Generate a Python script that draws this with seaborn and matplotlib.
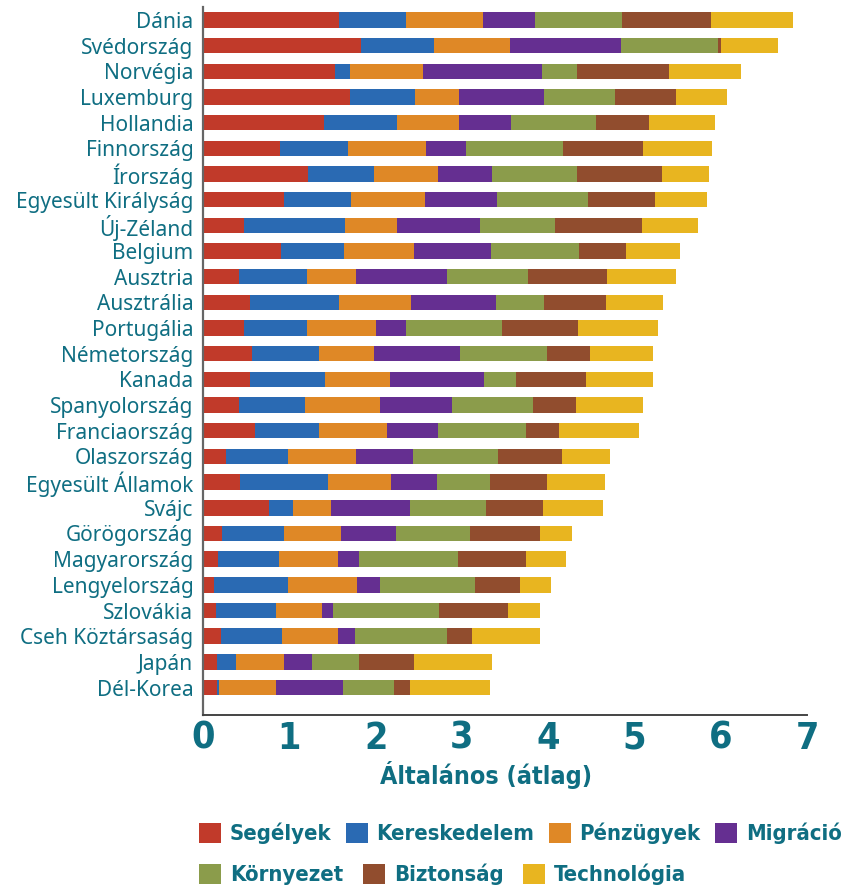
import pandas as pd
import seaborn as sns
import matplotlib.pyplot as plt
from matplotlib import font_manager
from matplotlib.font_manager import FontProperties
from matplotlib.textpath import TextToPath
from matplotlib.patches import Patch

countries = ['Dánia', 'Svédország', 'Norvégia', 'Luxemburg', 'Hollandia', 'Finnország',
             'Írország', 'Egyesült Királyság', 'Új-Zéland', 'Belgium', 'Ausztria',
             'Ausztrália', 'Portugália', 'Németország', 'Kanada', 'Spanyolország',
             'Franciaország', 'Olaszország', 'Egyesült Államok', 'Svájc', 'Görögország',
             'Magyarország', 'Lengyelország', 'Szlovákia', 'Cseh Köztársaság', 'Japán',
             'Dél-Korea']

segelyek = [1.58, 1.83, 1.53, 1.70, 1.40, 0.89, 1.22, 0.94, 0.48, 0.90, 0.42, 0.55, 0.48, 0.57,
            0.54, 0.42, 0.60, 0.27, 0.43, 0.77, 0.22, 0.17, 0.13, 0.15, 0.21, 0.16, 0.16]
kereskedelem = [0.77, 0.85, 0.17, 0.76, 0.85, 0.79, 0.76, 0.78, 1.17, 0.73, 0.78, 1.03, 0.73, 0.78,
                0.87, 0.76, 0.74, 0.72, 1.02, 0.27, 0.72, 0.71, 0.86, 0.70, 0.70, 0.22, 0.02]
penzugyek = [0.89, 0.88, 0.85, 0.51, 0.72, 0.91, 0.74, 0.85, 0.60, 0.81, 0.57, 0.83, 0.80, 0.63,
             0.76, 0.87, 0.79, 0.78, 0.73, 0.44, 0.66, 0.69, 0.80, 0.53, 0.66, 0.56, 0.67]
migracio = [0.61, 1.28, 1.38, 0.98, 0.60, 0.46, 0.63, 0.84, 0.96, 0.90, 1.06, 0.99, 0.34, 1.00,
            1.09, 0.83, 0.59, 0.66, 0.53, 0.92, 0.64, 0.24, 0.26, 0.13, 0.19, 0.32, 0.77]
kornyezet = [1.01, 1.13, 0.41, 0.82, 0.99, 1.12, 0.98, 1.05, 0.87, 1.02, 0.94, 0.55, 1.11, 1.01,
             0.37, 0.95, 1.02, 0.99, 0.62, 0.88, 0.85, 1.15, 1.10, 1.22, 1.07, 0.55, 0.59]
biztonsag = [1.03, 0.03, 1.06, 0.71, 0.61, 0.93, 0.99, 0.78, 1.01, 0.54, 0.91, 0.72, 0.89, 0.50,
             0.81, 0.49, 0.38, 0.74, 0.66, 0.66, 0.81, 0.78, 0.52, 0.81, 0.29, 0.64, 0.19]
technologia = [0.95, 0.66, 0.83, 0.59, 0.76, 0.80, 0.54, 0.60, 0.65, 0.63, 0.80, 0.66, 0.92, 0.72,
               0.77, 0.78, 0.93, 0.56, 0.67, 0.70, 0.38, 0.47, 0.36, 0.37, 0.78, 0.90, 0.93]

names = ['Segélyek', 'Kereskedelem', 'Pénzügyek', 'Migráció', 'Környezet', 'Biztonság', 'Technológia']
colors = ['#c13a2a', '#2a6ab3', '#df8826', '#652f91', '#8b9c4b', '#914d2e', '#e8b520']
teal = '#0f6e82'


def condensed_bold():
    # narrowest proportional sans bold face that is installed
    files = [f.fname for f in font_manager.fontManager.ttflist]
    files = [f for f in files if not any(k in f.lower() for k in ['mono', 'serif', 'italic', 'cjk'])]
    for key in ['NotoSans-ExtraCondensedBold', 'OpenSans-CondensedBold', 'NotoSans-CondensedBold',
                'LiberationSansNarrow-Bold', 'DejaVuSansCondensed-Bold', 'SemiCondensedBold']:
        for f in files:
            if key.lower() in f.replace(' ', '').lower():
                return f
    return None


cond_file = condensed_bold()


def cprop(size):
    if cond_file:
        return FontProperties(fname=cond_file, size=size)
    return FontProperties(family='Liberation Sans', weight='bold', size=size)


def fit_size(text, target_px, base=20):
    # font size (pt) giving the wanted rendered width in pixels at dpi 100
    w, h, d = TextToPath().get_text_width_height_descent(text, cprop(base), ismath=False)
    return base * target_px / (w * 100 / 72)


df = pd.DataFrame(dict(zip(names, [segelyek, kereskedelem, penzugyek, migracio,
                                   kornyezet, biztonsag, technologia])), index=countries)
cum = df.cumsum(axis=1)

sns.set_theme(style='white')
plt.rcParams['font.family'] = ['Noto Sans', 'DejaVu Sans']

fig, ax = plt.subplots(figsize=(8.59, 8.91), dpi=100)
fig.subplots_adjust(left=0.2363, right=0.9395, top=0.992, bottom=0.1975)

# stacked bars: draw cumulative totals from the last component back to the first
for name, c in reversed(list(zip(names, colors))):
    sns.barplot(x=cum[name].values, y=countries, color=c, orient='h', width=0.6,
                saturation=1, linewidth=0, ax=ax)

ax.set_xlim(0, 7)
ax.set_ylim(27.07, -0.5)
ax.set_xticks(range(8))
ax.set_xticklabels([str(i) for i in range(8)])
for t in ax.get_xticklabels():
    t.set_fontproperties(cprop(27))
    t.set_color(teal)
ax.tick_params(axis='x', length=0, pad=4)
ax.tick_params(axis='y', length=0, pad=7, labelsize=15, labelcolor=teal)
ax.set_ylabel('')
xl_size = min(26, fit_size('Általános (átlag)', 212))
ax.set_xlabel('Általános (átlag)', fontproperties=cprop(xl_size), color=teal)
ax.xaxis.set_label_coords((486 - 203) / 604, -0.085)
ax.xaxis.label.set_va('center')

for s in ['top', 'right']:
    ax.spines[s].set_visible(False)
ax.spines['left'].set_color('#666666')
ax.spines['left'].set_linewidth(1.6)
ax.spines['bottom'].set_color('#444444')
ax.spines['bottom'].set_linewidth(1.4)

lg_size = min(22, fit_size('Kereskedelem', 158))
box = 22 * 72 / 100 / lg_size
handles = [Patch(facecolor=c, edgecolor='none', label=n) for n, c in zip(names, colors)]
legend_kw = dict(frameon=False, handlelength=box, handleheight=box, handletextpad=0.4,
                 borderaxespad=0, borderpad=0, loc='center left', prop=cprop(lg_size))
leg1 = fig.legend(handles=handles[:4], ncol=4, columnspacing=0.65,
                  bbox_to_anchor=(199 / 859, 1 - 833.5 / 891), **legend_kw)
leg2 = fig.legend(handles=handles[4:], ncol=3, columnspacing=0.9,
                  bbox_to_anchor=(199 / 859, 1 - 874.5 / 891), **legend_kw)
for leg in (leg1, leg2):
    for t in leg.get_texts():
        t.set_color(teal)

fig.savefig('out.png', dpi=100)
